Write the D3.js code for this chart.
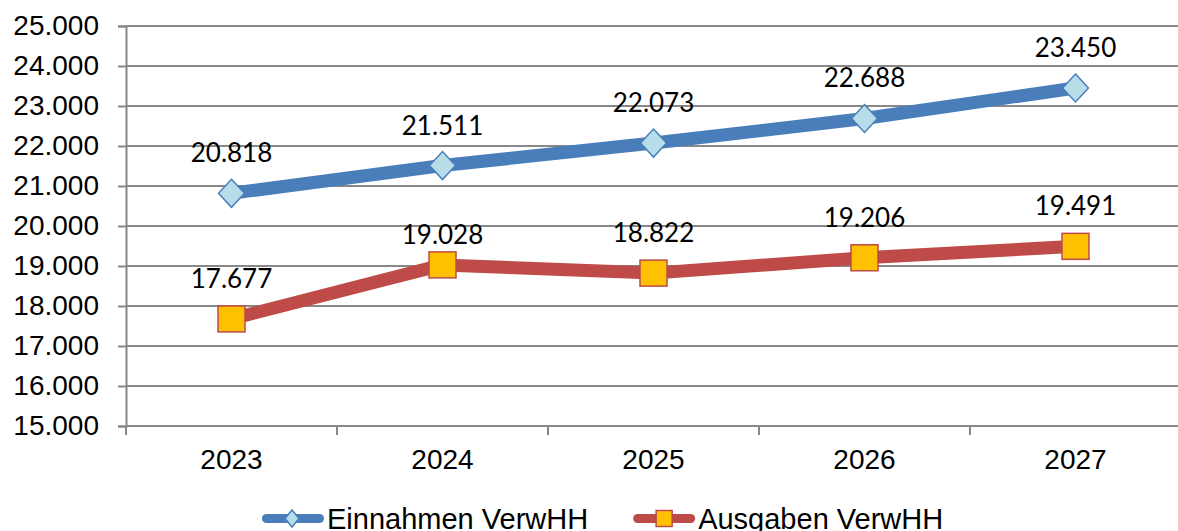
<!DOCTYPE html>
<html>
<head>
<meta charset="utf-8">
<script src="https://cdn.jsdelivr.net/npm/d3@7"></script>
<style>
  html, body { margin: 0; padding: 0; background: #fff; overflow: hidden; }
  svg { display: block; }
</style>
</head>
<body>
<svg id="chart" width="1178" height="531"></svg>
<script>
const years = ["2023", "2024", "2025", "2026", "2027"];
const einnahmen = [20818, 21511, 22073, 22688, 23450];
const ausgaben = [17677, 19028, 18822, 19206, 19491];
const yTicks = [15000, 16000, 17000, 18000, 19000, 20000, 21000, 22000, 23000, 24000, 25000];
const seriesNames = ["Einnahmen VerwHH", "Ausgaben VerwHH"];

const svg = d3.select("#chart");
const plotLeft = 126, plotRight = 1181, plotTop = 26, plotBottom = 426;
const grid = "#888888";

const loc = d3.formatLocale({ decimal: ",", thousands: ".", grouping: [3], currency: ["", "€"] });
const fmt = loc.format(",d");

const x = d3.scaleBand().domain(years).range([plotLeft, plotRight]).padding(0);
const y = d3.scaleLinear().domain([15000, 25000]).range([plotBottom, plotTop]);
const cx = d => x(d) + x.bandwidth() / 2;

// gridlines
svg.append("g").selectAll("line").data(yTicks).join("line")
  .attr("x1", plotLeft).attr("x2", plotRight)
  .attr("y1", d => y(d)).attr("y2", d => y(d))
  .attr("stroke", grid).attr("stroke-width", 2);

// y axis
const yAxis = svg.append("g").attr("transform", `translate(${plotLeft},0)`)
  .call(d3.axisLeft(y).tickValues(yTicks).tickFormat(fmt).tickSize(8).tickPadding(19));
yAxis.select(".domain").attr("stroke", grid).attr("stroke-width", 2);
yAxis.selectAll(".tick line").attr("stroke", grid).attr("stroke-width", 2);
yAxis.selectAll("text").attr("fill", "#000")
  .style("font-family", "'Liberation Sans', Arial, sans-serif").style("font-size", "28px");

// x axis
const xAxis = svg.append("g").attr("transform", `translate(0,${plotBottom})`)
  .call(d3.axisBottom(x).tickSize(0).tickPadding(23));
xAxis.select(".domain").remove();
xAxis.selectAll("text").attr("fill", "#000")
  .style("font-family", "'Liberation Sans', Arial, sans-serif").style("font-size", "28px");
// category boundary ticks
svg.append("g").selectAll("line").data(years).join("line")
  .attr("x1", d => x(d)).attr("x2", d => x(d))
  .attr("y1", plotBottom).attr("y2", plotBottom + 9)
  .attr("stroke", grid).attr("stroke-width", 2);

const series = [
  { name: seriesNames[0], values: einnahmen, line: "#4A7EBB", fill: "#B7DEE8", stroke: "#4A7EBB", shape: "diamond", labelUp: [31, 31, 31, 31, 31] },
  { name: seriesNames[1], values: ausgaben, line: "#BE4B48", fill: "#FFC000", stroke: "#BE4B48", shape: "square", labelUp: [31, 21, 31, 31, 31] }
];

const lineGen = d3.line().x((d, i) => cx(years[i])).y(d => y(d));

function drawMarker(g, shape, w, h, fill, stroke) {
  if (shape === "diamond") {
    g.append("path")
      .attr("d", `M0,${-h/2} L${w/2},0 L0,${h/2} L${-w/2},0 Z`)
      .attr("fill", fill).attr("stroke", stroke).attr("stroke-width", 1.5);
  } else {
    g.append("rect").attr("x", -w/2).attr("y", -h/2).attr("width", w).attr("height", h)
      .attr("fill", fill).attr("stroke", stroke).attr("stroke-width", 1.5);
  }
}

series.forEach(s => {
  svg.append("path").datum(s.values)
    .attr("d", lineGen)
    .attr("fill", "none").attr("stroke", s.line).attr("stroke-width", 13)
    .attr("stroke-linejoin", "round");
  s.values.forEach((v, i) => {
    const g = svg.append("g").attr("transform", `translate(${cx(years[i])},${y(v)})`);
    if (s.shape === "diamond") drawMarker(g, "diamond", 26, 28, s.fill, s.stroke);
    else drawMarker(g, "square", 27, 26, s.fill, s.stroke);
  });
});

// data labels
series.forEach(s => {
  svg.append("g").selectAll("text").data(s.values).join("text")
    .attr("x", (d, i) => cx(years[i]))
    .attr("y", (d, i) => y(d) - s.labelUp[i])
    .attr("text-anchor", "middle")
    .style("font-family", "Lato, 'Open Sans', sans-serif").style("font-size", "26px")
    .attr("fill", "#000")
    .text(d => fmt(d));
});

// legend
const legY = 518.5;
let lx = 262;
series.forEach(s => {
  const g = svg.append("g");
  g.append("line").attr("x1", lx + 4.5).attr("x2", lx + 57.5).attr("y1", legY).attr("y2", legY)
    .attr("stroke", s.line).attr("stroke-width", 9).attr("stroke-linecap", "round");
  const mg = g.append("g").attr("transform", `translate(${lx + (s.shape === "diamond" ? 30 : 31)},${legY})`);
  if (s.shape === "diamond") drawMarker(mg, "diamond", 14, 17, s.fill, s.stroke);
  else drawMarker(mg, "square", 16, 16, s.fill, s.stroke);
  const t = g.append("text").attr("x", lx + 65).attr("y", 528.5)
    .style("font-family", "'Liberation Sans', Arial, sans-serif").style("font-size", "29px")
    .attr("fill", "#000").text(s.name);
  lx = lx + 65 + t.node().getComputedTextLength() + 45;
});
</script>
</body>
</html>
